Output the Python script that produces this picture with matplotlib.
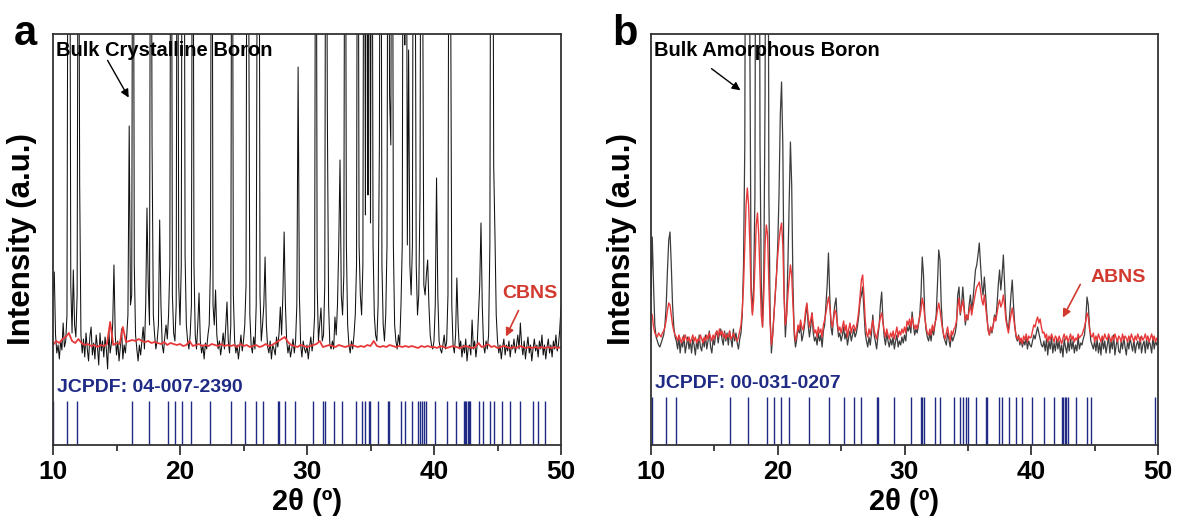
import numpy as np
import matplotlib
matplotlib.use("Agg")
import matplotlib.pyplot as plt

plt.rcParams['font.family'] = ['Liberation Sans', 'DejaVu Sans']
plt.rcParams['font.weight'] = 'bold'

# 2theta grids (degrees)
tt_fine = np.linspace(10, 50, 401)    # 0.1 deg step
tt_coarse = np.linspace(10, 50, 161)  # 0.25 deg step

# panel a: bulk crystalline boron (0.1 deg step, arbitrary units)
bulk_cryst = [
    150, 173, 110, 92, 100, 86, 104, 95, 122, 98,
    104, 130, 700, 700, 160, 112, 175, 120, 108, 150,
    700, 260, 110, 92, 106, 88, 112, 96, 84, 108,
    118, 90, 102, 86, 110, 98, 80, 112, 94, 104,
    88, 108, 96, 76, 114, 92, 102, 120, 180, 110,
    90, 104, 84, 98, 116, 86, 100, 92, 108, 130,
    319, 140, 150, 800, 180, 110, 96, 84, 100, 90,
    104, 118, 96, 140, 237, 160, 120, 800, 300, 130,
    110, 96, 104, 120, 225, 140, 100, 92, 108, 120,
    106, 130, 180, 800, 150, 112, 104, 140, 800, 160,
    120, 180, 800, 800, 190, 120, 104, 96, 110, 140,
    800, 180, 110, 96, 120, 152, 104, 92, 100, 86,
    102, 96, 110, 120, 180, 800, 140, 120, 155, 110,
    96, 104, 90, 100, 112, 96, 118, 143, 104, 92,
    120, 800, 150, 104, 92, 100, 86, 98, 110, 94,
    104, 120, 160, 800, 500, 130, 100, 92, 108, 96,
    140, 600, 800, 150, 104, 120, 140, 188, 120, 98,
    92, 104, 86, 100, 96, 90, 108, 98, 112, 138,
    110, 150, 213, 140, 104, 92, 100, 88, 96, 106,
    92, 104, 140, 378, 150, 100, 88, 104, 96, 92,
    100, 86, 98, 108, 94, 104, 130, 800, 160, 104,
    120, 137, 104, 110, 160, 800, 335, 140, 100, 96,
    104, 96, 128, 110, 140, 200, 285, 150, 130, 170,
    800, 200, 120, 100, 92, 104, 96, 110, 130, 180,
    800, 200, 150, 130, 180, 800, 230, 800, 250, 800,
    222, 800, 200, 130, 110, 104, 140, 300, 800, 180,
    120, 104, 130, 200, 800, 350, 300, 800, 200, 120,
    104, 96, 110, 100, 140, 200, 800, 400, 800, 200,
    395, 180, 150, 200, 800, 600, 180, 130, 150, 250,
    800, 500, 160, 150, 170, 185, 140, 110, 100, 96,
    104, 140, 267, 150, 104, 96, 92, 100, 110, 96,
    104, 150, 800, 500, 140, 100, 92, 110, 167, 120,
    96, 104, 88, 100, 92, 106, 84, 98, 100, 90,
    125, 96, 104, 88, 100, 130, 160, 222, 140, 100,
    92, 104, 96, 110, 200, 800, 800, 280, 210, 130,
    104, 92, 100, 86, 98, 106, 90, 100, 94, 104,
    88, 100, 96, 106, 92, 100, 110, 96, 122, 100,
    90, 104, 86, 98, 108, 92, 100, 84, 96, 106,
    94, 100, 88, 104, 96, 110, 90, 100, 86, 98,
    106, 92, 100, 88, 104, 96, 110, 94, 100, 115,
    138]

# panel a: CBNS (0.25 deg step)
cbns = [
    100, 104, 102, 106, 108, 112, 104, 102,
    106, 102, 100, 101, 99, 100, 98, 100,
    99, 101, 123, 100, 102, 101, 118, 103,
    104, 105, 104, 106, 104, 103, 104, 102,
    103, 102, 101, 103, 100, 102, 101, 100,
    101, 99, 100, 104, 99, 100, 101, 99,
    100, 99, 101, 100, 99, 101, 99, 100,
    99, 100, 98, 101, 99, 100, 98, 99,
    100, 98, 99, 101, 99, 100, 102, 104,
    106, 108, 103, 100, 99, 98, 100, 99,
    98, 99, 100, 101, 104, 98, 99, 100,
    99, 98, 100, 99, 98, 99, 100, 99,
    98, 99, 98, 100, 99, 104, 99, 98,
    99, 98, 100, 99, 98, 99, 98, 99,
    98, 99, 98, 97, 99, 98, 99, 98,
    98, 97, 99, 98, 97, 98, 99, 98,
    97, 98, 99, 98, 97, 98, 102, 98,
    99, 101, 98, 99, 97, 98, 99, 98,
    97, 98, 97, 99, 98, 97, 98, 97,
    98, 97, 98, 97, 98, 97, 98, 97,
    98]

# panel b: bulk amorphous boron (0.1 deg step)
bulk_amor = [
    150, 208, 160, 120, 108, 104, 100, 98, 102, 106,
    110, 120, 140, 175, 205, 213, 180, 140, 118, 108,
    104, 96, 108, 92, 104, 98, 110, 92, 100, 108,
    96, 104, 92, 106, 100, 90, 104, 96, 110, 98,
    94, 106, 98, 110, 96, 104, 114, 98, 92, 106,
    100, 110, 114, 102, 112, 116, 106, 100, 114, 104,
    112, 100, 114, 106, 98, 116, 104, 112, 102, 96,
    106, 112, 130, 180, 300, 800, 800, 800, 400, 160,
    132, 160, 250, 800, 800, 800, 300, 160, 118, 170,
    350, 800, 800, 250, 130, 92, 110, 130, 150, 170,
    200, 250, 330, 363, 300, 150, 108, 130, 180, 240,
    303, 260, 160, 110, 98, 106, 118, 112, 120, 104,
    110, 118, 130, 140, 120, 108, 118, 132, 112, 104,
    108, 100, 112, 104, 110, 98, 114, 120, 140, 160,
    192, 150, 118, 110, 128, 140, 147, 120, 108, 112,
    104, 110, 118, 106, 112, 100, 108, 114, 104, 110,
    116, 108, 112, 120, 130, 145, 150, 158, 135, 112,
    104, 98, 108, 100, 112, 130, 110, 104, 96, 108,
    120, 140, 153, 125, 108, 100, 112, 104, 98, 106,
    100, 108, 96, 104, 110, 98, 104, 100, 108, 102,
    110, 104, 118, 114, 120, 112, 133, 120, 110, 116,
    112, 120, 130, 150, 188, 170, 130, 115, 108, 104,
    112, 104, 118, 110, 120, 130, 160, 195, 185, 140,
    118, 108, 104, 100, 112, 106, 98, 110, 104, 108,
    112, 120, 150, 158, 130, 140, 158, 140, 120, 130,
    125, 140, 150, 135, 145, 160, 175, 180, 190, 202,
    180, 160, 150, 168, 150, 130, 115, 110, 118, 112,
    120, 130, 125, 140, 160, 175, 155, 170, 190, 160,
    130, 120, 115, 130, 150, 165, 140, 120, 108, 104,
    110, 100, 106, 98, 104, 100, 108, 96, 104, 100,
    98, 104, 110, 106, 112, 118, 112, 106, 100, 98,
    104, 94, 106, 90, 104, 96, 108, 92, 102, 94,
    106, 96, 104, 92, 100, 88, 106, 98, 92, 104,
    94, 106, 96, 104, 92, 100, 94, 108, 96, 102,
    100, 106, 110, 125, 148, 140, 118, 104, 100, 96,
    104, 94, 106, 92, 102, 90, 108, 96, 104, 92,
    100, 108, 92, 104, 96, 110, 90, 100, 106, 94,
    92, 104, 96, 108, 98, 90, 104, 96, 108, 100,
    94, 106, 92, 100, 104, 96, 108, 92, 100, 104,
    92, 106, 96, 104, 100, 92, 108, 96, 104, 100,
    104]

# panel b: ABNS (0.1 deg step)
abns = [
    132, 130, 118, 112, 110, 108, 112, 110, 108, 112,
    114, 118, 125, 135, 142, 140, 130, 120, 114, 110,
    108, 104, 110, 106, 102, 108, 104, 110, 106, 104,
    108, 102, 106, 110, 104, 108, 102, 106, 104, 110,
    106, 102, 108, 104, 110, 106, 112, 108, 104, 110,
    106, 112, 114, 108, 116, 110, 114, 108, 112, 106,
    110, 108, 114, 106, 108, 112, 108, 106, 104, 108,
    114, 120, 135, 160, 200, 240, 257, 240, 200, 150,
    130, 145, 180, 220, 232, 210, 170, 130, 118, 150,
    200, 220, 210, 160, 120, 100, 110, 130, 150, 170,
    190, 205, 215, 222, 200, 150, 120, 130, 150, 165,
    180, 170, 140, 115, 104, 110, 120, 115, 125, 118,
    115, 122, 135, 142, 128, 118, 125, 132, 120, 112,
    115, 108, 118, 112, 116, 108, 120, 125, 132, 140,
    148, 140, 125, 118, 125, 135, 132, 122, 114, 118,
    112, 118, 124, 114, 120, 108, 116, 122, 112, 118,
    120, 114, 118, 125, 135, 150, 165, 170, 150, 125,
    112, 108, 116, 110, 118, 125, 115, 110, 106, 114,
    120, 128, 132, 122, 114, 108, 116, 110, 106, 112,
    108, 114, 106, 112, 118, 108, 114, 110, 116, 112,
    118, 112, 124, 120, 126, 118, 128, 122, 116, 120,
    116, 122, 128, 135, 147, 140, 128, 118, 112, 110,
    116, 110, 120, 114, 122, 126, 135, 142, 135, 125,
    116, 110, 106, 112, 118, 110, 104, 114, 110, 116,
    118, 124, 138, 147, 132, 138, 145, 135, 124, 130,
    126, 134, 140, 130, 138, 145, 152, 158, 160, 163,
    155, 145, 140, 150, 138, 126, 115, 110, 118, 114,
    120, 128, 124, 132, 140, 145, 138, 142, 150, 140,
    125, 118, 112, 122, 130, 137, 128, 118, 110, 106,
    109, 103, 107, 101, 109, 105, 111, 103, 109, 107,
    108, 114, 120, 118, 124, 128, 122, 126, 118, 112,
    113, 107, 111, 103, 109, 105, 111, 107, 103, 109,
    107, 103, 109, 105, 101, 107, 111, 105, 109, 103,
    107, 111, 105, 109, 103, 107, 105, 111, 107, 109,
    110, 114, 118, 124, 132, 128, 116, 110, 108, 112,
    103, 109, 105, 111, 107, 103, 109, 105, 111, 107,
    105, 111, 107, 103, 109, 105, 111, 107, 103, 109,
    107, 103, 111, 105, 109, 107, 103, 109, 105, 111,
    107, 103, 109, 105, 111, 107, 103, 109, 105, 107,
    111, 105, 109, 103, 107, 111, 105, 109, 103, 107,
    105]

# reference stick patterns (2theta positions)
jcpdf_a = [10.02, 11.08, 11.87, 16.19, 17.56, 19.07, 19.63, 20.15, 20.85,
           22.37, 23.98, 25.14, 25.96, 26.51, 27.74, 27.83, 28.29, 29.08,
           30.48, 31.24, 31.42, 32.09, 32.76, 33.87, 34.33, 34.54, 34.86,
           34.97, 35.62, 36.37, 36.46, 37.43, 37.75, 38.24, 38.74, 38.91,
           39.06, 39.20, 39.35, 40.05, 41.04, 41.77, 42.33, 42.41, 42.53,
           42.65, 42.76, 42.85, 43.55, 43.84, 44.43, 44.69, 45.36, 46.00,
           46.79, 47.81, 48.22, 48.75]
jcpdf_b = [10.06, 11.16, 11.98, 16.23, 17.62, 19.13, 19.72, 20.24, 20.88,
           22.45, 24.08, 25.21, 26.03, 26.58, 27.86, 27.92, 29.17, 30.51,
           31.27, 31.38, 31.50, 32.43, 32.78, 33.91, 34.35, 34.64, 34.87,
           35.02, 35.66, 36.41, 36.47, 37.49, 37.72, 38.22, 38.80, 39.24,
           40.08, 41.04, 41.77, 42.44, 42.52, 42.64, 42.76, 42.87, 43.51,
           44.42, 44.68, 49.77]

navy = '#1f2a85'
red = '#e8393a'
red_txt = '#d23a2f'

fig = plt.figure(figsize=(11.79, 5.26), dpi=100)
ax_a = fig.add_axes([53 / 1179, 81 / 526, 508 / 1179, 411 / 526])
ax_b = fig.add_axes([651 / 1179, 81 / 526, 507 / 1179, 411 / 526])

for ax in (ax_a, ax_b):
    ax.set_xlim(10, 50)
    ax.set_ylim(0, 411)
    ax.set_yticks([])
    ax.set_xticks([10, 20, 30, 40, 50])
    ax.set_xticks([15, 25, 35, 45], minor=True)
    ax.tick_params(axis='x', which='major', length=7, width=1.3,
                   labelsize=19, pad=4, color='#333333')
    ax.tick_params(axis='x', which='minor', length=4, width=1.3,
                   color='#333333')
    for lab in ax.get_xticklabels():
        lab.set_fontweight('bold')
    for sp in ax.spines.values():
        sp.set_linewidth(1.3)
        sp.set_color('#333333')
    ax.set_xlabel('2θ (º)', fontsize=21, fontweight='bold')
    ax.xaxis.set_label_coords(0.5, -0.105)
    ax.set_ylabel('Intensity (a.u.)', fontsize=22.5, fontweight='bold')

ax_a.yaxis.set_label_coords(-0.031, 0.5)
ax_b.yaxis.set_label_coords(-0.028, 0.5)

# panel a
ax_a.plot(tt_fine, bulk_cryst, color='#111111', lw=0.75)
ax_a.plot(tt_coarse, cbns, color=red, lw=1.3)
ax_a.vlines(jcpdf_a, 0, 44, color=navy, lw=1.0)
ax_a.text(10.24, 395, 'Bulk Crystalline Boron', fontsize=14.5,
          fontweight='bold', ha='left', va='center')
ax_a.annotate('', xy=(16.07, 345), xytext=(14.19, 387),
              arrowprops=dict(arrowstyle='-|>', color='black', lw=1,
                              mutation_scale=12))
ax_a.text(45.38, 152, 'CBNS', fontsize=14, fontweight='bold',
          color=red_txt, ha='left', va='center')
ax_a.annotate('', xy=(45.57, 106), xytext=(46.75, 137),
              arrowprops=dict(arrowstyle='-|>', color=red_txt, lw=1.2,
                              mutation_scale=12))
ax_a.text(10.3, 58, 'JCPDF: 04-007-2390', fontsize=14, fontweight='bold',
          color=navy, ha='left', va='center')

# panel b
ax_b.plot(tt_fine, bulk_amor, color='#3d3d3d', lw=0.9)
ax_b.plot(tt_fine, abns, color=red, lw=1.0)
ax_b.vlines(jcpdf_b, 0, 48, color=navy, lw=1.0)
ax_b.text(10.24, 394, 'Bulk Amorphous Boron', fontsize=14.5,
          fontweight='bold', ha='left', va='center')
ax_b.annotate('', xy=(17.23, 353), xytext=(14.6, 378),
              arrowprops=dict(arrowstyle='-|>', color='black', lw=1,
                              mutation_scale=12))
ax_b.text(44.68, 168, 'ABNS', fontsize=14, fontweight='bold',
          color=red_txt, ha='left', va='center')
ax_b.annotate('', xy=(42.39, 125), xytext=(43.97, 163),
              arrowprops=dict(arrowstyle='-|>', color=red_txt, lw=1.2,
                              mutation_scale=12))
ax_b.text(10.3, 62, 'JCPDF: 00-031-0207', fontsize=14, fontweight='bold',
          color=navy, ha='left', va='center')

fig.text(14 / 1179, 1 - 45 / 526, 'a', fontsize=30, fontweight='bold',
         ha='left', va='baseline')
fig.text(612 / 1179, 1 - 45 / 526, 'b', fontsize=30, fontweight='bold',
         ha='left', va='baseline')

fig.savefig('out.png', dpi=100)
